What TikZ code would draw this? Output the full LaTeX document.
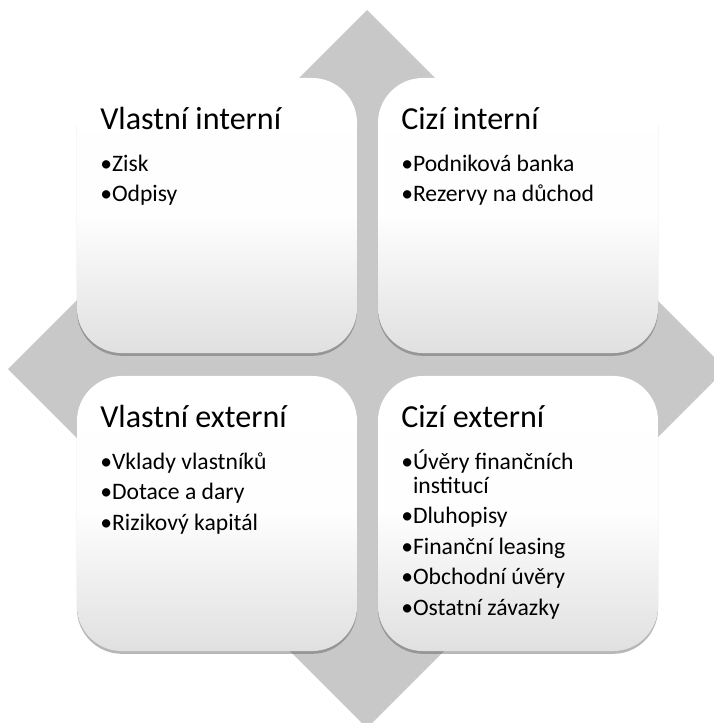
\documentclass[tikz,border=0pt]{standalone}
\usepackage{fontspec}
\setmainfont{Carlito}
\usetikzlibrary{shadows}

\definecolor{backgray}{RGB}{200,200,200}
\definecolor{boxgray}{RGB}{224,224,224}

\begin{document}
\begin{tikzpicture}[x=0.025cm, y=-0.025cm]
    % --- STYLES ---
    \tikzstyle{quadrant} = [rectangle, rounded corners=1.125cm, minimum width=7cm, minimum height=6.875cm, top color=white, bottom color=boxgray, middle color=white!96!boxgray, drop shadow={shadow xshift=0pt, shadow yshift=-2pt, opacity=0.4, fill=black!70}]
    \tikzstyle{heading} = [anchor=base west, inner sep=0pt, font=\fontsize{22.8}{27}\selectfont]
    \tikzstyle{item} = [anchor=base west, inner sep=0pt, font=\fontsize{16.8}{20}\selectfont]

    \useasboundingbox (0,0) rectangle (714,723);
    \clip (0,0) rectangle (714,723);

    % --- BACKGROUND ---
    \fill[backgray] (367,10) -- (726,369) -- (367,728) -- (8,369) -- cycle;

    % --- BOXES ---
    \node (vi) [quadrant] at (217,215.5) {};
    \node (ci) [quadrant] at (518,215.5) {};
    \node (ve) [quadrant] at (217,513.5) {};
    \node (ce) [quadrant] at (518,513.5) {};

    % --- TEXTS ---
    \node (vihead) [heading] at (100,129) {Vlastní interní};
    \node (vi1) [item] at (100,171) {•Zisk};
    \node (vi2) [item] at (100,201.5) {•Odpisy};

    \node (cihead) [heading] at (401,129) {Cizí interní};
    \node (ci1) [item] at (401,171) {•Podniková banka};
    \node (ci2) [item] at (401,201.5) {•Rezervy na důchod};

    \node (vehead) [heading] at (100,427) {Vlastní externí};
    \node (ve1) [item] at (100,469) {•Vklady vlastníků};
    \node (ve2) [item] at (100,499.5) {•Dotace a dary};
    \node (ve3) [item] at (100,530) {•Rizikový kapitál};

    \node (cehead) [heading] at (401,427) {Cizí externí};
    \node (ce1) [item] at (401,469) {•Úvěry finančních};
    \node (ce1b) [item] at (401,493) {\hphantom{•}institucí};
    \node (ce2) [item] at (401,523.5) {•Dluhopisy};
    \node (ce3) [item] at (401,554) {•Finanční leasing};
    \node (ce4) [item] at (401,584.5) {•Obchodní úvěry};
    \node (ce5) [item] at (401,615) {•Ostatní závazky};

\end{tikzpicture}
\end{document}
